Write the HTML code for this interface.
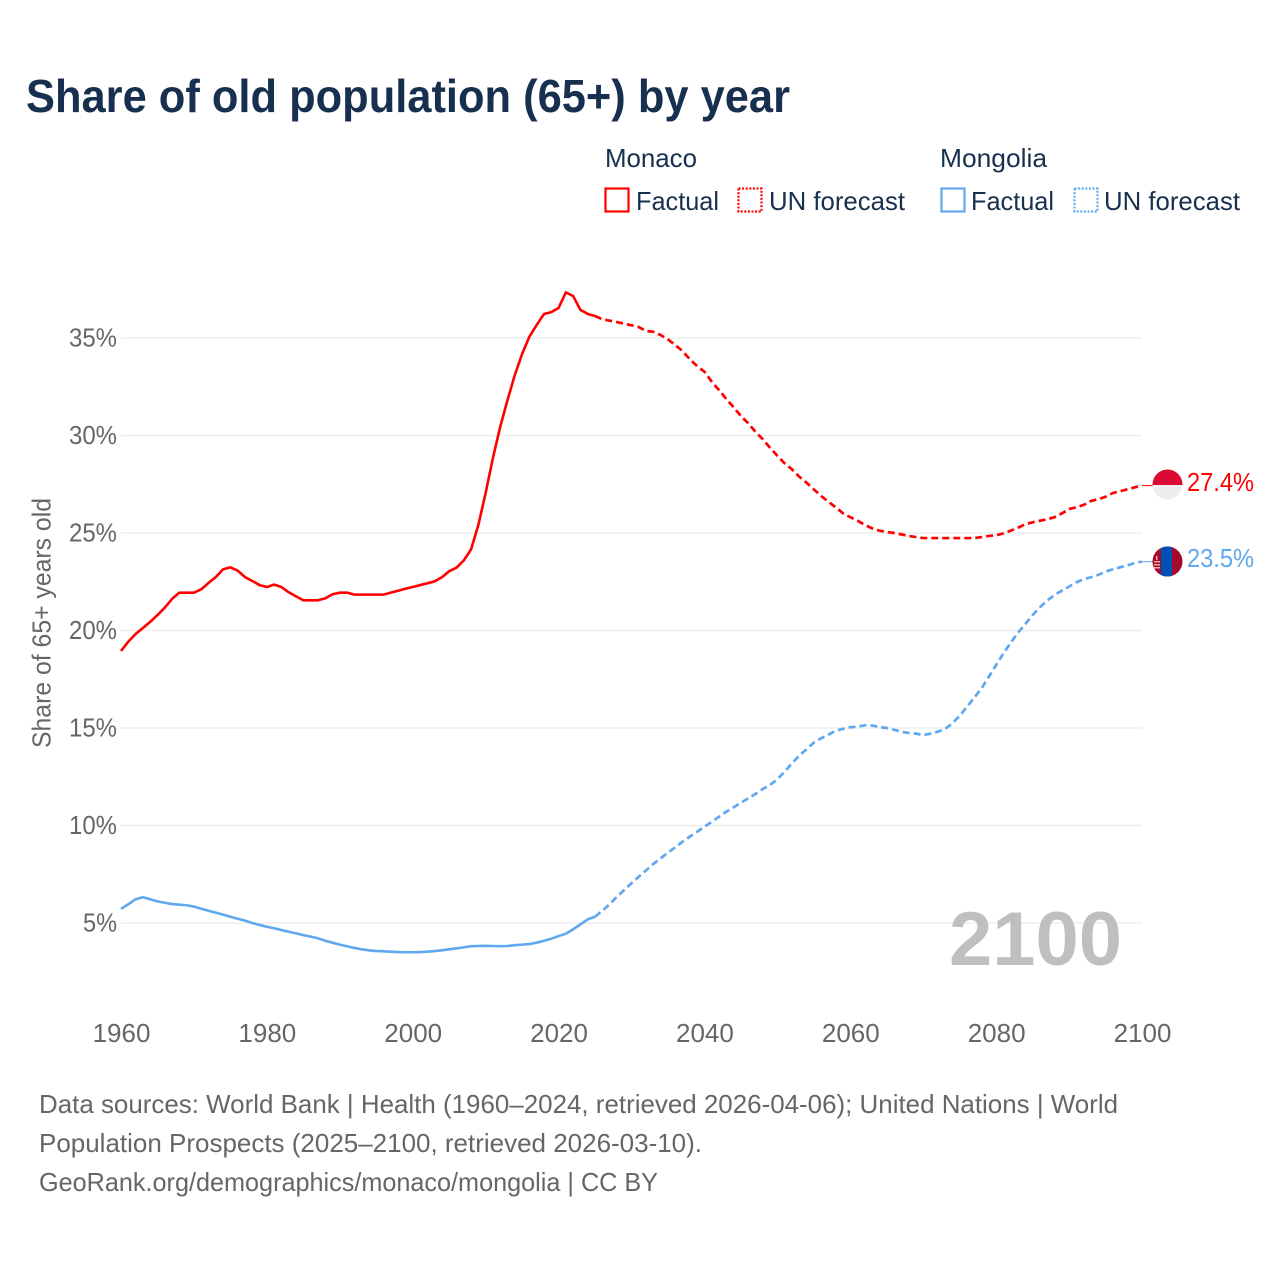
<!DOCTYPE html>
<html lang="en">
<head>
<meta charset="utf-8">
<title>Share of old population (65+) by year</title>
<style>
  html, body { margin: 0; padding: 0; background: #fff; }
  svg { display: block; font-family: "Liberation Sans", sans-serif; }
</style>
</head>
<body>
<svg id="chart" xmlns="http://www.w3.org/2000/svg" width="1280" height="1280" viewBox="0 0 1280 1280">
  <rect width="1280" height="1280" fill="#ffffff"/>
  <text x="26" y="112" font-size="46" font-weight="700" fill="#18304f" textLength="764" lengthAdjust="spacingAndGlyphs">Share of old population (65+) by year</text>

  <g font-size="26" fill="#18304f">
    <text x="605" y="167" textLength="92" lengthAdjust="spacingAndGlyphs">Monaco</text>
    <rect x="605.5" y="188.5" width="23" height="23" fill="none" stroke="#ff0000" stroke-width="2.2"/>
    <text x="636" y="210" textLength="83" lengthAdjust="spacingAndGlyphs">Factual</text>
    <rect x="738.5" y="188.5" width="23" height="23" fill="none" stroke="#ff0000" stroke-width="2.2" stroke-dasharray="2 1.6"/>
    <text x="769" y="210" textLength="136" lengthAdjust="spacingAndGlyphs">UN forecast</text>
    <text x="940" y="167" textLength="107" lengthAdjust="spacingAndGlyphs">Mongolia</text>
    <rect x="941.5" y="188.5" width="23" height="23" fill="none" stroke="#5fa8ee" stroke-width="2.2"/>
    <text x="971" y="210" textLength="83" lengthAdjust="spacingAndGlyphs">Factual</text>
    <rect x="1074.5" y="188.5" width="23" height="23" fill="none" stroke="#5fa8ee" stroke-width="2.2" stroke-dasharray="2 1.6"/>
    <text x="1104" y="210" textLength="136" lengthAdjust="spacingAndGlyphs">UN forecast</text>
  </g>

  <g id="grid"></g>
  <g id="yticks" font-size="26" fill="#666666" text-anchor="end"></g>
  <g id="xticks" font-size="26" fill="#666666" text-anchor="middle"></g>
  <text transform="translate(50.5 748) rotate(-90)" font-size="26" fill="#666666" textLength="250" lengthAdjust="spacingAndGlyphs">Share of 65+ years old</text>
  <text x="949" y="965" font-size="76" font-weight="700" fill="#bfbfbf" textLength="173" lengthAdjust="spacingAndGlyphs">2100</text>

  <g id="series"></g>

  <defs>
    <clipPath id="clip-monaco"><circle cx="1167.5" cy="484.5" r="15"/></clipPath>
    <clipPath id="clip-mongolia"><circle cx="1167.5" cy="561.5" r="15"/></clipPath>
  </defs>
  <g clip-path="url(#clip-monaco)">
    <rect x="1152" y="469" width="31" height="16" fill="#dc0a32"/>
    <rect x="1152" y="485" width="31" height="16" fill="#eeeef0"/>
  </g>
  <g clip-path="url(#clip-mongolia)">
    <rect x="1152" y="546" width="31" height="31" fill="#a50a2d"/>
    <rect x="1161" y="546" width="11" height="31" fill="#0050b5"/>
    <rect x="1156" y="556" width="1.5" height="4" fill="#e8b0a0"/>
    <rect x="1154" y="561" width="6" height="1.5" fill="#e8b0a0"/>
    <rect x="1154" y="564" width="6" height="1.5" fill="#e8b0a0"/>
    <rect x="1154" y="567" width="6" height="1.5" fill="#e8b0a0"/>
  </g>
  <text x="1187" y="491" font-size="26" fill="#ff0000" textLength="67" lengthAdjust="spacingAndGlyphs">27.4%</text>
  <text x="1187" y="567" font-size="26" fill="#5fa8ee" textLength="67" lengthAdjust="spacingAndGlyphs">23.5%</text>

  <g font-size="26" fill="#666666">
    <text x="39" y="1113" textLength="1079" lengthAdjust="spacingAndGlyphs">Data sources: World Bank | Health (1960–2024, retrieved 2026-04-06); United Nations | World</text>
    <text x="39" y="1152" textLength="663" lengthAdjust="spacingAndGlyphs">Population Prospects (2025–2100, retrieved 2026-03-10).</text>
    <text x="39" y="1191" textLength="619" lengthAdjust="spacingAndGlyphs">GeoRank.org/demographics/monaco/mongolia | CC BY</text>
  </g>
</svg>

<script>
const firstYear = 1960;
const lastFactualYear = 2025;
const yTickValues = [5, 10, 15, 20, 25, 30, 35];
const xTickValues = [1960, 1980, 2000, 2020, 2040, 2060, 2080, 2100];

const monacoValues = [
  18.95,19.43,19.82,20.13,20.44,20.79,21.17,21.62,21.94,21.94,
  21.94,22.11,22.44,22.74,23.14,23.24,23.07,22.74,22.54,22.33,
  22.23,22.35,22.23,21.96,21.75,21.55,21.55,21.55,21.65,21.86,
  21.94,21.94,21.84,21.84,21.84,21.84,21.84,21.94,22.04,22.14,
  22.23,22.33,22.42,22.52,22.73,23.04,23.22,23.59,24.16,25.41,
  27.05,28.85,30.45,31.82,33.10,34.18,35.07,35.67,36.23,36.33,
  36.54,37.34,37.15,36.44,36.23,36.13,35.96,35.89,35.82,35.73,
  35.65,35.56,35.36,35.32,35.15,34.93,34.64,34.33,33.91,33.56,
  33.27,32.76,32.33,31.87,31.45,31.00,30.63,30.19,29.81,29.37,
  28.96,28.57,28.27,27.89,27.58,27.24,26.90,26.60,26.32,26.01,
  25.81,25.63,25.41,25.24,25.12,25.05,25.00,24.93,24.85,24.79,
  24.74,24.74,24.74,24.74,24.74,24.74,24.74,24.74,24.79,24.85,
  24.88,24.98,25.12,25.27,25.45,25.55,25.63,25.70,25.81,26.00,
  26.23,26.32,26.44,26.64,26.73,26.86,27.05,27.14,27.24,27.34,
  27.43
];

const mongoliaValues = [
  5.72,5.96,6.22,6.32,6.22,6.11,6.04,5.97,5.94,5.91,
  5.84,5.73,5.63,5.53,5.43,5.32,5.22,5.12,5.00,4.90,
  4.81,4.73,4.64,4.55,4.47,4.38,4.30,4.22,4.09,3.99,
  3.89,3.81,3.72,3.65,3.60,3.56,3.55,3.53,3.51,3.50,
  3.50,3.51,3.53,3.56,3.60,3.65,3.70,3.75,3.81,3.82,
  3.83,3.82,3.81,3.82,3.86,3.89,3.92,3.99,4.09,4.19,
  4.33,4.45,4.68,4.93,5.19,5.32,5.63,5.96,6.35,6.69,
  7.04,7.37,7.70,8.03,8.32,8.61,8.88,9.17,9.43,9.68,
  9.94,10.19,10.45,10.71,10.93,11.17,11.39,11.62,11.87,12.08,
  12.37,12.76,13.19,13.58,13.91,14.25,14.47,14.66,14.86,14.96,
  15.04,15.07,15.14,15.13,15.05,15.00,14.91,14.81,14.74,14.71,
  14.64,14.71,14.81,14.95,15.24,15.62,16.09,16.55,17.04,17.63,
  18.23,18.83,19.37,19.89,20.33,20.79,21.19,21.53,21.82,22.04,
  22.25,22.47,22.63,22.73,22.85,23.02,23.14,23.24,23.34,23.46,
  23.53
];

const SVG_NS = 'http://www.w3.org/2000/svg';
const xScale = function (year) { return 121 + (year - 1960) * (1142 - 121) / 140; };
const yScale = function (value) { return 1020.5 - value * 19.5; };

const gridGroup = document.getElementById('grid');
const yTickGroup = document.getElementById('yticks');
const xTickGroup = document.getElementById('xticks');
const seriesGroup = document.getElementById('series');

yTickValues.forEach(function (value) {
  const line = document.createElementNS(SVG_NS, 'line');
  
  
  line.setAttribute('x1', xScale(1960));
  line.setAttribute('x2', xScale(2100));
  line.setAttribute('y1', yScale(value));
  line.setAttribute('y2', yScale(value));
  line.setAttribute('stroke', '#eeeeee');
  line.setAttribute('stroke-width', '1.4');
  gridGroup.appendChild(line);

  const label = document.createElementNS(SVG_NS, 'text');
  
  
  label.setAttribute('x', 117);
  label.setAttribute('y', yScale(value) + 8.5);
  const chars = String(value).length;
  label.setAttribute('textLength', chars === 1 ? 34 : 48);
  label.setAttribute('lengthAdjust', 'spacingAndGlyphs');
  label.textContent = value + '%';
  yTickGroup.appendChild(label);
});

xTickValues.forEach(function (year) {
  const label = document.createElementNS(SVG_NS, 'text');
  
  
  label.setAttribute('x', xScale(year) + 0.5);
  label.setAttribute('y', 1042);
  label.textContent = String(year);
  xTickGroup.appendChild(label);
});

function pointsFor(values, fromIndex, toIndex) {
  const pts = [];
  for (let i = fromIndex; i <= toIndex; i++) {
    pts.push(xScale(firstYear + i).toFixed(2) + ',' + yScale(values[i]).toFixed(2));
  }
  return pts.join(' ');
}

function drawSeries(values, color, seriesName, flagX) {
  const splitIndex = lastFactualYear - firstYear;
  const lastIndex = values.length - 1;

  const solid = document.createElementNS(SVG_NS, 'polyline');
  
  
  solid.setAttribute('points', pointsFor(values, 0, splitIndex));
  solid.setAttribute('fill', 'none');
  solid.setAttribute('stroke', color);
  solid.setAttribute('stroke-width', '2.6');
  solid.setAttribute('stroke-linejoin', 'round');
  seriesGroup.appendChild(solid);

  const dashed = document.createElementNS(SVG_NS, 'polyline');
  
  
  dashed.setAttribute('points', pointsFor(values, splitIndex, lastIndex));
  dashed.setAttribute('fill', 'none');
  dashed.setAttribute('stroke', color);
  dashed.setAttribute('stroke-width', '2.7');
  dashed.setAttribute('stroke-dasharray', '7 4');
  seriesGroup.appendChild(dashed);

  const connector = document.createElementNS(SVG_NS, 'line');
  
  
  connector.setAttribute('x1', xScale(2100));
  connector.setAttribute('x2', flagX);
  connector.setAttribute('y1', yScale(values[lastIndex]));
  connector.setAttribute('y2', yScale(values[lastIndex]));
  connector.setAttribute('stroke', color);
  connector.setAttribute('stroke-width', '1');
  seriesGroup.appendChild(connector);
}

drawSeries(monacoValues, '#ff0000', 'monaco', 1153);
drawSeries(mongoliaValues, '#5fa8ee', 'mongolia', 1153);
</script>
</body>
</html>
